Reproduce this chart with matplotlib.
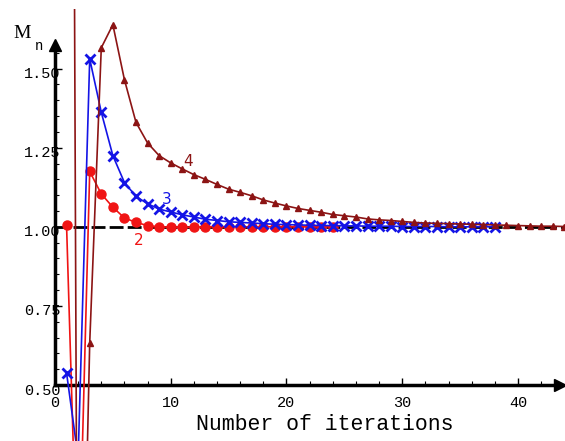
import numpy as np
import matplotlib
matplotlib.use("Agg")
import matplotlib.pyplot as plt
import matplotlib.transforms as mtransforms
from matplotlib.patches import Rectangle
from matplotlib.ticker import FixedLocator

# M_n for the three cases, one value per iteration n = 1, 2, ...
m_2 = [1.005, -0.20, 1.175, 1.104, 1.062, 1.028, 1.014, 1.004, 1.000, 0.999,
       0.999, 0.999, 1.000, 1.000, 1.000, 1.000, 1.000, 1.000, 1.000, 1.000,
       1.000, 1.000, 1.000, 1.000]
m_3 = [0.538, 0.27, 1.531, 1.362, 1.225, 1.140, 1.096, 1.073, 1.056, 1.047,
       1.038, 1.031, 1.024, 1.020, 1.016, 1.014, 1.012, 1.010, 1.008, 1.007,
       1.006, 1.005, 1.004, 1.004, 1.003, 1.003, 1.002, 1.002, 1.002, 1.001,
       1.001, 1.001, 1.001, 1.000, 1.000, 1.000, 1.000, 1.000]
m_4 = [7.7, -1.0, 0.633, 1.566, 1.639, 1.465, 1.330, 1.265, 1.225, 1.202,
       1.183, 1.165, 1.150, 1.134, 1.119, 1.109, 1.098, 1.085, 1.075, 1.066,
       1.058, 1.052, 1.046, 1.039, 1.035, 1.031, 1.025, 1.022, 1.020, 1.017,
       1.014, 1.012, 1.011, 1.010, 1.009, 1.008, 1.007, 1.006, 1.005, 1.004,
       1.003, 1.002, 1.002, 1.001]

x_ticks = [0, 10, 20, 30, 40]
y_ticks = [0.50, 0.75, 1.00, 1.25, 1.50]
x_minor = [2, 4, 6, 8, 12, 14, 16, 18, 22, 24, 26, 28, 32, 34, 36, 38, 42]
y_minor = [0.55, 0.60, 0.65, 0.70, 0.80, 0.85, 0.90, 0.95,
           1.05, 1.10, 1.15, 1.20, 1.30, 1.35, 1.40, 1.45, 1.55]

c_red = '#f01414'
c_blue = '#1414e6'
c_brown = '#8c1414'

fig = plt.figure(figsize=(5.65, 4.41), dpi=100)
ax = fig.add_axes([0, 0, 1, 1])
ax.set_xlim(-4.75, 44.06)
ax.set_ylim(0.323, 1.717)

# limit line
ax.hlines(1.0, 0, 44, colors='k', linestyles=(0, (5, 1.5)), lw=2, zorder=1)

clip = Rectangle((-10, -10), 100, 11.69, transform=ax.transData)

n2 = np.arange(1, len(m_2) + 1)
n3 = np.arange(1, len(m_3) + 1)
n4 = np.arange(1, len(m_4) + 1)
l2, = ax.plot(n2, m_2, '-o', color=c_red, lw=1.2, ms=6.5, zorder=4)
l3, = ax.plot(n3, m_3, '-x', color=c_blue, lw=1.2, ms=6.5, mew=2, zorder=5)
l4, = ax.plot(n4, m_4, '-^', color=c_brown, lw=1.2, ms=5, zorder=6)
for l in (l2, l3, l4):
    l.set_clip_path(clip)

ax.text(11.52, 1.206, '4', color=c_brown, fontsize=11, ha='center', va='center')
ax.text(9.65, 1.087, '3', color=c_blue, fontsize=11, ha='center', va='center')
ax.text(7.2, 0.958, '2', color=c_red, fontsize=11, ha='center', va='center')

# Mathematica style axes crossing at (0, 0.5)
for s in ('top', 'right'):
    ax.spines[s].set_visible(False)
ax.spines['left'].set_position(('data', 0))
ax.spines['bottom'].set_position(('data', 0.5))
ax.spines['left'].set_bounds(0.5, 1.57)
ax.spines['bottom'].set_bounds(0, 43.5)
ax.spines['left'].set_linewidth(2.5)
ax.spines['bottom'].set_linewidth(2.5)
ax.spines['left'].set_zorder(3)
ax.spines['bottom'].set_zorder(3)
ax.plot(43.6, 0.5, marker='>', color='k', ms=8, clip_on=False, zorder=3)
ax.plot(0, 1.575, marker='^', color='k', ms=8, clip_on=False, zorder=3)

ax.set_xticks(x_ticks)
ax.set_yticks(y_ticks)
ax.set_xticklabels([str(t) for t in x_ticks])
ax.set_yticklabels(['%.2f' % t for t in y_ticks])
ax.xaxis.set_minor_locator(FixedLocator(x_minor))
ax.yaxis.set_minor_locator(FixedLocator(y_minor))
ax.tick_params(which='major', direction='in', length=5, width=1)
ax.tick_params(which='minor', direction='in', length=3, width=0.8)
ax.tick_params(axis='x', pad=8)
ax.tick_params(axis='y', pad=-4)
for lab in ax.get_xticklabels() + ax.get_yticklabels():
    lab.set_fontfamily('Liberation Mono')
    lab.set_fontsize(11)
down = mtransforms.ScaledTranslation(0, -4 / 100, fig.dpi_scale_trans)
for lab in ax.get_yticklabels():
    lab.set_transform(lab.get_transform() + down)

fig.text(22 / 565, 1 - 34 / 441, 'M', family='Liberation Serif', fontsize=14,
         ha='center', va='center')
fig.text(39 / 565, 1 - 46 / 441, 'n', family='Liberation Mono', fontsize=10,
         ha='center', va='center')
fig.text(325 / 565, 1 - 424 / 441, 'Number of iterations', family='Liberation Mono',
         fontsize=15.5, ha='center', va='center')

fig.savefig('out.png', dpi=100)
